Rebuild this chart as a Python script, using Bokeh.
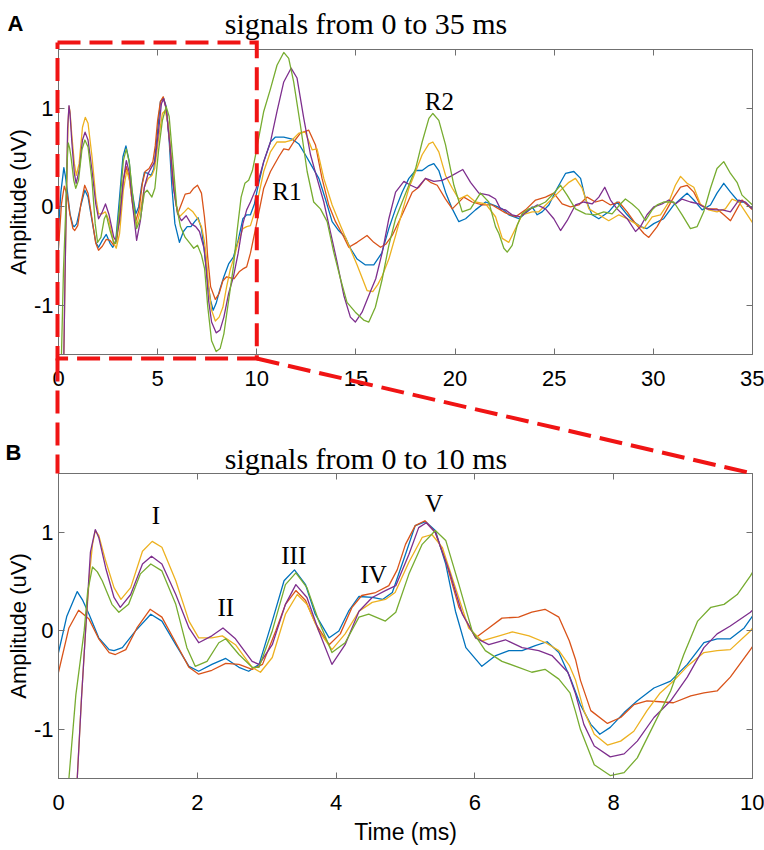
import numpy as np
from bokeh.plotting import figure
from bokeh.models import Range1d, LinearAxis, FixedTicker, Label
from bokeh.layouts import column
from bokeh.embed import file_html
from bokeh.resources import INLINE

# ---------------- data (time in ms, amplitude in uV) ----------------
blue_pts = [(0.00,-0.22),(0.12,0.15),(0.27,0.40),(0.35,0.31),(0.44,0.17),(0.58,-0.07),(0.73,-0.19),(0.80,-0.20),
    (0.92,-0.17),(1.11,0.00),(1.33,0.17),(1.49,0.10),(1.69,-0.14),(1.88,-0.36),(2.02,-0.41),(2.21,-0.34),(2.41,-0.28),
    (2.60,-0.37),(2.74,-0.41),(2.89,-0.34),(3.08,0.10),(3.25,0.51),(3.40,0.62),(3.56,0.47),(3.70,0.17),(3.90,-0.07),
    (4.04,0.00),(4.18,0.20),(4.33,0.35),(4.52,0.34),(4.67,0.32),(4.81,0.39),(5.00,0.78),(5.14,1.07),(5.29,1.11),
    (5.43,1.02),(5.58,0.68),(5.72,0.20),(5.87,-0.17),(6.10,-0.36),(6.30,-0.25),(6.49,-0.20),(6.68,-0.20),(6.87,-0.15),
    (7.04,-0.11),(7.21,-0.22),(7.37,-0.47),(7.52,-0.75),(7.67,-0.95),(7.80,-1.05),(7.95,-0.98),(8.15,-0.83),(8.34,-0.71),
    (8.58,-0.58),(8.82,-0.51),(9.06,-0.34),(9.30,-0.12),(9.49,-0.08),(9.68,-0.08),(9.88,0.03),(10.02,0.17),(10.35,0.46),
    (10.69,0.66),(10.94,0.71),(11.36,0.71),(11.78,0.69),(12.12,0.64),(12.45,0.53),(12.79,0.41),(13.13,0.29),(13.46,0.08),
    (13.80,-0.15),(14.13,-0.24),(14.47,-0.31),(14.72,-0.42),(15.06,-0.53),(15.48,-0.59),(15.90,-0.59),(16.30,-0.47),
    (16.66,-0.22),(17.00,-0.02),(17.33,0.15),(17.67,0.29),(18.01,0.37),(18.34,0.37),(18.68,0.42),(18.93,0.44),(19.18,0.37),
    (19.52,0.15),(19.86,-0.02),(20.19,-0.15),(20.53,-0.12),(21.03,-0.03),(21.54,0.05),(22.04,0.01),(22.38,-0.02),
    (22.71,-0.08),(23.22,-0.12),(23.64,-0.05),(23.89,0.00),(24.14,-0.08),(24.39,-0.05),(24.73,0.02),(25.15,0.19),
    (25.57,0.34),(25.99,0.36),(26.33,0.29),(26.58,0.08),(26.91,-0.08),(27.25,-0.12),(27.75,-0.05),(28.17,0.05),
    (28.68,-0.08),(29.01,-0.15),(29.35,-0.20),(29.68,-0.22),(30.02,-0.17),(30.52,-0.12),(31.03,0.02),(31.37,0.08),
    (31.70,0.14),(32.04,0.07),(32.46,-0.03),(32.88,0.02),(33.21,0.14),(33.55,0.24),(33.89,0.15),(34.31,0.05),
    (34.56,0.05),(35.00,-0.02)]

red_pts = [(0.00,-0.42),(0.15,0.03),(0.29,0.21),(0.44,0.12),(0.58,-0.08),(0.73,-0.22),(0.82,-0.24),(0.97,-0.19),
    (1.13,0.03),(1.32,0.22),(1.49,0.14),(1.69,-0.12),(1.88,-0.37),(2.02,-0.44),(2.21,-0.40),(2.41,-0.33),(2.60,-0.34),
    (2.79,-0.39),(2.94,-0.34),(3.13,0.00),(3.27,0.27),(3.42,0.41),(3.56,0.31),(3.70,0.08),(3.90,-0.14),(4.06,-0.03),
    (4.23,0.24),(4.37,0.36),(4.57,0.39),(4.76,0.46),(4.88,0.62),(5.00,0.88),(5.14,1.07),(5.28,1.12),(5.43,1.00),
    (5.58,0.71),(5.77,0.24),(6.01,-0.07),(6.20,0.03),(6.39,0.13),(6.63,0.14),(6.82,0.19),(7.01,0.22),(7.21,0.14),
    (7.36,-0.10),(7.45,-0.29),(7.52,-0.50),(7.67,-0.81),(7.91,-0.94),(8.10,-0.88),(8.29,-0.75),(8.48,-0.71),(8.67,-0.72),
    (8.86,-0.73),(9.11,-0.66),(9.30,-0.63),(9.49,-0.61),(9.68,-0.47),(9.97,-0.19),(10.35,0.19),(10.69,0.36),(11.11,0.51),
    (11.36,0.59),(11.61,0.58),(11.86,0.66),(12.20,0.75),(12.62,0.78),(12.96,0.63),(13.29,0.29),(13.63,0.02),(13.97,-0.15),
    (14.30,-0.27),(14.64,-0.41),(15.06,-0.36),(15.56,-0.29),(15.90,-0.36),(16.24,-0.41),(16.50,-0.38),(16.83,-0.29),
    (17.33,-0.08),(17.84,0.15),(18.17,0.20),(18.51,0.29),(18.76,0.25),(19.10,0.22),(19.52,0.08),(19.86,-0.02),
    (20.44,0.10),(20.86,0.05),(21.37,0.02),(21.87,0.02),(22.54,-0.06),(23.05,-0.10),(23.55,-0.03),(24.06,0.07),
    (24.56,0.10),(24.98,0.14),(25.40,0.03),(25.82,0.00),(26.24,0.02),(26.66,0.10),(27.08,0.05),(27.42,0.07),(27.84,0.02),
    (28.26,0.05),(28.68,-0.05),(29.10,-0.17),(29.52,-0.27),(29.77,-0.31),(30.19,-0.20),(30.61,-0.05),(31.03,0.10),
    (31.37,0.20),(31.70,0.22),(32.04,0.15),(32.37,0.02),(32.79,-0.02),(33.21,-0.02),(33.55,-0.08),(33.89,-0.14),
    (34.22,-0.02),(34.47,0.07),(35.00,-0.03)]

yellow_pts = [(0.00,-4.50),(0.27,-1.50),(0.33,-0.70),(0.39,0.00),(0.45,0.60),(0.49,0.88),(0.53,1.02),(0.58,0.97),
    (0.68,0.71),(0.80,0.44),(0.90,0.32),(1.04,0.44),(1.21,0.81),(1.35,0.91),(1.49,0.85),(1.69,0.51),(1.88,0.10),
    (2.02,-0.07),(2.21,-0.07),(2.36,-0.05),(2.55,-0.14),(2.79,-0.37),(2.91,-0.42),(3.08,-0.27),(3.27,0.17),(3.44,0.37),
    (3.58,0.27),(3.75,0.00),(3.94,-0.19),(4.13,-0.03),(4.33,0.20),(4.52,0.29),(4.71,0.32),(4.85,0.39),(5.05,0.70),
    (5.24,0.95),(5.38,0.98),(5.53,0.85),(5.72,0.44),(5.91,0.03),(6.10,-0.10),(6.35,-0.05),(6.54,-0.01),(6.78,-0.05),
    (7.02,-0.12),(7.21,-0.20),(7.36,-0.35),(7.45,-0.50),(7.57,-0.81),(7.72,-1.05),(7.91,-1.16),(8.10,-1.12),(8.29,-1.02),
    (8.48,-0.81),(8.67,-0.63),(8.86,-0.51),(9.06,-0.36),(9.30,-0.22),(9.49,-0.20),(9.68,-0.19),(9.97,0.00),(10.35,0.36),
    (10.69,0.56),(11.02,0.66),(11.45,0.66),(11.78,0.68),(12.12,0.75),(12.45,0.76),(12.79,0.58),(13.04,0.59),(13.38,0.29),
    (13.80,0.02),(14.22,-0.19),(14.64,-0.39),(15.06,-0.59),(15.56,-0.85),(15.85,-0.86),(16.10,-0.79),(16.33,-0.70),
    (16.66,-0.53),(17.00,-0.29),(17.33,-0.05),(17.67,0.19),(18.01,0.36),(18.34,0.53),(18.68,0.64),(18.88,0.66),
    (19.18,0.56),(19.52,0.32),(19.86,0.19),(20.19,0.08),(20.61,0.12),(21.03,0.05),(21.54,0.03),(22.04,-0.10),
    (22.38,-0.32),(22.71,-0.36),(23.05,-0.22),(23.38,-0.08),(23.89,-0.05),(24.22,-0.05),(24.73,0.05),(25.23,0.15),
    (25.74,0.25),(26.07,0.29),(26.41,0.19),(26.75,-0.02),(27.25,-0.08),(27.75,-0.14),(28.26,-0.08),(28.68,-0.12),
    (29.10,-0.17),(29.52,-0.22),(29.94,-0.10),(30.36,-0.08),(30.78,0.05),(31.11,0.22),(31.37,0.31),(31.70,0.24),
    (32.04,0.20),(32.37,0.03),(32.79,-0.03),(33.21,-0.05),(33.63,-0.02),(33.97,0.08),(34.31,0.05),(34.64,-0.05),
    (35.00,-0.16)]

purple_pts = [(0.00,-4.50),(0.27,-1.50),(0.33,-0.70),(0.39,0.00),(0.46,0.80),(0.53,1.03),(0.58,0.95),(0.68,0.64),
    (0.80,0.34),(0.89,0.24),(1.04,0.37),(1.21,0.68),(1.34,0.76),(1.49,0.68),(1.69,0.37),(1.88,0.03),(2.02,-0.12),
    (2.21,-0.05),(2.37,0.03),(2.55,-0.08),(2.79,-0.31),(2.89,-0.34),(3.08,-0.14),(3.27,0.27),(3.42,0.47),(3.58,0.34),
    (3.75,0.00),(3.94,-0.34),(4.13,-0.14),(4.33,0.20),(4.52,0.34),(4.71,0.41),(4.86,0.46),(5.05,0.78),(5.19,1.05),
    (5.30,1.10),(5.43,1.00),(5.63,0.61),(5.82,0.17),(6.01,-0.07),(6.20,-0.14),(6.44,-0.09),(6.68,-0.17),(6.92,-0.20),
    (7.11,-0.25),(7.34,-0.42),(7.45,-0.64),(7.57,-0.95),(7.72,-1.17),(7.95,-1.28),(8.15,-1.25),(8.34,-1.12),(8.58,-0.88),
    (8.82,-0.71),(9.06,-0.47),(9.30,-0.17),(9.49,-0.03),(9.68,0.05),(9.97,0.19),(10.35,0.46),(10.69,0.66),(11.02,0.97),
    (11.36,1.27),(11.73,1.41),(12.03,1.31),(12.37,0.90),(12.71,0.53),(13.04,0.29),(13.38,0.05),(13.71,-0.25),
    (14.05,-0.56),(14.39,-0.90),(14.72,-1.12),(14.97,-1.17),(15.31,-1.07),(15.73,-0.86),(16.00,-0.73),(16.33,-0.46),
    (16.66,-0.12),(17.00,0.15),(17.42,0.26),(17.76,0.22),(18.09,0.19),(18.51,0.29),(18.93,0.26),(19.35,0.27),
    (19.77,0.31),(20.39,0.38),(20.78,0.25),(21.20,0.14),(21.70,0.12),(22.04,0.08),(22.29,-0.02),(22.54,-0.03),
    (22.88,-0.08),(23.30,-0.10),(23.72,-0.03),(24.14,0.02),(24.56,-0.02),(24.98,-0.12),(25.32,-0.24),(25.65,-0.14),
    (26.07,0.02),(26.49,0.05),(26.91,0.03),(27.25,0.10),(27.55,0.20),(27.84,0.07),(28.17,-0.02),(28.68,-0.12),
    (29.10,-0.25),(29.35,-0.20),(29.68,-0.08),(30.02,0.00),(30.44,0.03),(30.78,0.07),(31.11,0.03),(31.45,0.08),
    (31.87,0.05),(32.29,0.03),(32.71,-0.02),(33.13,-0.03),(33.47,-0.03),(33.89,-0.05),(34.31,0.07),(34.64,0.05),
    (35.00,-0.02)]

green_pts = [(0.00,-2.60),(0.15,-1.50),(0.25,-0.65),(0.37,0.00),(0.42,0.40),(0.49,0.65),(0.56,0.60),(0.63,0.51),
    (0.77,0.27),(0.87,0.19),(1.01,0.27),(1.18,0.58),(1.33,0.68),(1.49,0.61),(1.69,0.27),(1.85,-0.17),(1.97,-0.36),
    (2.14,-0.31),(2.31,-0.12),(2.41,-0.08),(2.60,-0.24),(2.79,-0.37),(2.89,-0.37),(3.08,0.00),(3.27,0.47),(3.42,0.59),
    (3.58,0.44),(3.75,0.10),(3.94,-0.22),(4.13,-0.12),(4.33,0.14),(4.47,0.17),(4.71,0.10),(4.86,0.19),(5.05,0.58),
    (5.24,0.88),(5.43,1.02),(5.58,0.92),(5.77,0.47),(5.96,0.00),(6.15,-0.20),(6.39,-0.31),(6.63,-0.37),(6.82,-0.42),
    (7.01,-0.39),(7.21,-0.49),(7.37,-0.63),(7.45,-0.82),(7.52,-1.00),(7.72,-1.36),(7.95,-1.47),(8.15,-1.44),(8.34,-1.29),
    (8.58,-0.95),(8.82,-0.61),(9.01,-0.24),(9.21,0.10),(9.40,0.24),(9.59,0.27),(9.78,0.37),(9.97,0.56),(10.02,0.62),
    (10.35,0.97),(10.69,1.20),(11.02,1.44),(11.36,1.57),(11.61,1.51),(11.86,1.27),(12.20,0.83),(12.54,0.36),(12.87,0.05),
    (13.21,-0.02),(13.55,-0.15),(13.88,-0.46),(14.22,-0.73),(14.55,-0.97),(14.97,-1.07),(15.39,-1.15),(15.65,-1.17),
    (15.98,-1.02),(16.33,-0.73),(16.66,-0.39),(17.00,-0.12),(17.33,0.05),(17.67,0.22),(18.01,0.39),(18.34,0.66),
    (18.68,0.90),(18.88,0.95),(19.18,0.88),(19.52,0.63),(19.94,0.22),(20.36,-0.05),(20.78,-0.02),(21.28,0.14),
    (21.70,0.05),(22.04,-0.20),(22.21,-0.27),(22.46,-0.42),(22.63,-0.46),(22.88,-0.39),(23.13,-0.19),(23.38,-0.07),
    (23.72,-0.02),(24.06,0.00),(24.56,0.05),(24.98,0.14),(25.32,0.22),(25.65,0.12),(26.07,-0.02),(26.58,-0.07),
    (27.08,-0.08),(27.50,-0.05),(27.92,-0.07),(28.34,0.03),(28.59,0.08),(28.93,0.03),(29.26,-0.03),(29.60,-0.14),
    (29.94,-0.03),(30.19,0.02),(30.52,0.05),(31.03,0.05),(31.45,-0.08),(31.87,-0.22),(32.21,-0.20),(32.54,-0.05),
    (32.88,0.19),(33.21,0.39),(33.55,0.46),(33.89,0.34),(34.22,0.25),(34.47,0.12),(35.00,0.02)]

series_pts = [blue_pts, red_pts, yellow_pts, purple_pts, green_pts]
series_colors = ["#0072BD", "#D95319", "#EDB120", "#7E2F8E", "#77AC30"]

x_ticks_A = [0, 5, 10, 15, 20, 25, 30, 35]
x_ticks_B = [0, 2, 4, 6, 8, 10]
y_ticks = [-1, 0, 1]
zoom_window = (0, 10)
titles = ["signals from 0 to 35 ms", "signals from 0 to 10 ms"]
panel_letters = ["A", "B"]

peak_text_A = ["R1", "R2"]
peak_x_A = [11.52, 19.21]
peak_y_A = [0.16, 1.075]
peak_text_B = ["I", "II", "III", "IV", "V"]
peak_x_B = [1.405, 2.41, 3.39, 4.54, 5.41]
peak_y_B = [1.17, 0.24, 0.77, 0.57, 1.30]

# ---------------- geometry / style ----------------
GRAY = "#707070"
RED = "#f01414"
W, H = 764, 850
LB, RB = 58, 12
FW = W - LB - RB
FH = 305
A_TOP, A_BOT = 49, 38
HA = A_TOP + FH + A_BOT
B_TOP = 81
B_BOT = H - HA - B_TOP - FH
YMIN, YMAX = -1.5, 1.6
XR_A = (0, 35)
XR_B = (0, 10)
TITLE_CX = 365.5


def style_axis(ax, labels=True):
    ax.major_tick_in = 6
    ax.major_tick_out = 0
    ax.minor_tick_line_color = None
    ax.axis_line_color = GRAY
    ax.major_tick_line_color = GRAY
    if labels:
        ax.major_label_text_font = "Liberation Sans"
        ax.major_label_text_font_size = "22px"
        ax.major_label_text_color = "black"
        ax.major_label_standoff = 16
        ax.axis_label_text_font = "Liberation Sans"
        ax.axis_label_text_font_size = "23px"
        ax.axis_label_text_font_style = "normal"
        ax.axis_label_text_color = "black"
    else:
        ax.major_label_text_font_size = "0px"
        ax.major_label_standoff = 0


def make_panel(xr, xticks, top, bot):
    p = figure(width=W, height=top + FH + bot, x_range=Range1d(*xr), y_range=Range1d(YMIN, YMAX),
               output_backend="svg", toolbar_location=None, title=None,
               min_border_left=LB, min_border_right=RB, min_border_top=top, min_border_bottom=bot)
    p.grid.visible = False
    p.outline_line_color = GRAY
    p.outline_line_width = 1
    p.background_fill_color = "white"
    p.border_fill_color = "white"
    xa, ya = p.below[0], p.left[0]
    xa.ticker = FixedTicker(ticks=xticks)
    ya.ticker = FixedTicker(ticks=y_ticks)
    ya.major_label_overrides = {-1: "-1", 0: "0", 1: "1"}
    style_axis(xa)
    style_axis(ya)
    ya.major_label_standoff = 5
    ya.axis_label = "Amplitude (uV)"
    ya.axis_label_standoff = 0
    ya.axis_label_text_font_size = "22px"
    ta = LinearAxis(ticker=FixedTicker(ticks=xticks), major_label_overrides={t: "" for t in xticks})
    style_axis(ta, False)
    p.add_layout(ta, "above")
    ra = LinearAxis(ticker=FixedTicker(ticks=y_ticks), major_label_overrides={t: "" for t in y_ticks})
    style_axis(ra, False)
    p.add_layout(ra, "right")
    for pts, c in zip(series_pts, series_colors):
        t = [a for a, b in pts]
        v = [b for a, b in pts]
        p.line(t, v, line_color=c, line_width=1.3, line_join="round")
    return p, xa


# ---------------- panel A ----------------
pA, xaA = make_panel(XR_A, x_ticks_A, A_TOP, A_BOT)
for s, x, y in zip(peak_text_A, peak_x_A, peak_y_A):
    pA.add_layout(Label(x=x, y=y, text=s, text_align="center", text_baseline="middle",
                        text_font="Liberation Serif", text_font_size="25px", text_color="black"))

# ---------------- panel B ----------------
pB, xaB = make_panel(XR_B, x_ticks_B, B_TOP, B_BOT)
xaB.axis_label = "Time (ms)"
xaB.axis_label_standoff = 6
for s, x, y in zip(peak_text_B, peak_x_B, peak_y_B):
    pB.add_layout(Label(x=x, y=y, text=s, text_align="center", text_baseline="middle",
                        text_font="Liberation Serif", text_font_size="25px", text_color="black"))

# ---------------- transparent overlay (separate root): zoom box, connectors, titles, letters ----------------
pO = figure(width=W, height=H, x_range=Range1d(0, W), y_range=Range1d(H, 0),
            output_backend="svg", toolbar_location=None, title=None,
            x_axis_location=None, y_axis_location=None, min_border=0)
pO.grid.visible = False
pO.outline_line_color = None
pO.background_fill_color = None
pO.border_fill_color = None
pO.margin = (-H, 0, 0, 0)


def a_px(t):
    return LB + FW * (t - XR_A[0]) / (XR_A[1] - XR_A[0])


box_l = a_px(zoom_window[0]) - 1
box_r = a_px(zoom_window[1])
box_t = A_TOP - 7
box_b = A_TOP + FH + 4
b_top = HA + B_TOP
b_l = LB - 1
b_r = LB + FW

dash = dict(line_color=RED, line_width=4, line_dash="23 9", line_cap="butt", line_join="miter")
pO.line([box_l, box_r, box_r, box_l, box_l], [box_t, box_t, box_b, box_b, box_t], **dash)
pO.line([box_l, b_l], [box_b, b_top], **dash)
pO.line([box_r, b_r], [box_b, b_top], **dash)

title_baselines = [A_TOP - 26, b_top - 15]
for txt, yb in zip(titles, title_baselines):
    pO.add_layout(Label(x=TITLE_CX, y=yb, text=txt, text_align="center", text_baseline="alphabetic",
                        text_font="Liberation Serif", text_font_size="30px", text_color="black"))

letter_pos = [(7, 23), (5, HA + 60)]
for txt, (lx, ly) in zip(panel_letters, letter_pos):
    pO.add_layout(Label(x=lx, y=ly, text=txt, text_align="left", text_baseline="alphabetic",
                        text_font="Liberation Sans", text_font_style="bold", text_font_size="22px",
                        text_color="black"))

panels = column(pA, pB)
open("out.html", "w").write(file_html([panels, pO], INLINE))
